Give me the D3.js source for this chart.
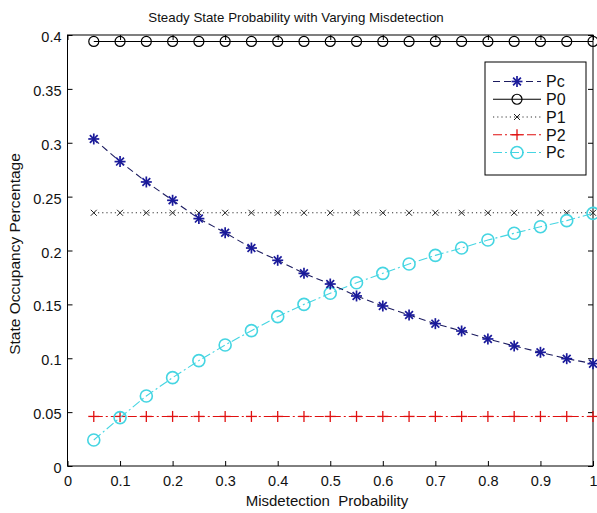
<!DOCTYPE html>
<html><head><meta charset="utf-8">
<script src="https://cdn.jsdelivr.net/npm/d3@7"></script>
<style>body{margin:0;background:#fff;} text{font-family:"Liberation Sans",Arial,sans-serif;}</style>
</head><body>
<svg id="c" width="597" height="513"></svg>
<script>
const xValues = [0.05,0.1,0.15,0.2,0.25,0.3,0.35,0.4,0.45,0.5,0.55,0.6,0.65,0.7,0.75,0.8,0.85,0.9,0.95,1.0];
const pcDecreasing = [0.3035,0.2825,0.2636,0.2466,0.2296,0.2165,0.2023,0.1909,0.1788,0.1689,0.1578,0.1485,0.1401,0.1321,0.1253,0.1179,0.1114,0.1055,0.0996,0.0950];
const p0 = [0.394,0.394,0.394,0.394,0.394,0.394,0.394,0.394,0.394,0.394,0.394,0.394,0.394,0.394,0.394,0.394,0.394,0.394,0.394,0.394];
const p1 = [0.235,0.235,0.235,0.235,0.235,0.235,0.235,0.235,0.235,0.235,0.235,0.235,0.235,0.235,0.235,0.235,0.235,0.235,0.235,0.235];
const p2 = [0.046,0.046,0.046,0.046,0.046,0.046,0.046,0.046,0.046,0.046,0.046,0.046,0.046,0.046,0.046,0.046,0.046,0.046,0.046,0.046];
const pcIncreasing = [0.0241,0.0449,0.065,0.082,0.0978,0.1123,0.1256,0.1386,0.150,0.1603,0.1701,0.1788,0.1875,0.1955,0.2023,0.2097,0.216,0.2221,0.2277,0.2345];
const xTicks = [0,0.1,0.2,0.3,0.4,0.5,0.6,0.7,0.8,0.9,1];
const yTicks = [0,0.05,0.1,0.15,0.2,0.25,0.3,0.35,0.4];
const seriesNames = ["Pc","P0","P1","P2","Pc"];

const L=67.5, R=593, T=35, B=466;
const svg = d3.select("#c");
const x = d3.scaleLinear().domain([0,1]).range([L,R]);
const y = d3.scaleLinear().domain([0,0.4]).range([B,T]);

const series = [
  {name:seriesNames[0], vals:pcDecreasing, color:"#1a1a9a", dash:"7,4", marker:"star", lineColor:"#1c1c60"},
  {name:seriesNames[1], vals:p0, color:"#000", dash:null, marker:"circle", lineColor:"#000"},
  {name:seriesNames[2], vals:p1, color:"#222", dash:"1.2,3", marker:"x", lineColor:"#333"},
  {name:seriesNames[3], vals:p2, color:"#e01010", dash:"9,3,2,3", marker:"plus", lineColor:"#e01010"},
  {name:seriesNames[4], vals:pcIncreasing, color:"#45d5e2", dash:"9,3,2,3", marker:"circleC", lineColor:"#45d5e2"}
];

const g = svg.append("g");
g.append("rect").attr("x",L).attr("y",T).attr("width",R-L).attr("height",B-T).attr("fill","none").attr("stroke","#000").attr("stroke-width",1);

const xAxis = d3.axisBottom(x).tickValues(xTicks).tickSize(-5).tickPadding(10).tickFormat(d3.format("~g"));
const yAxis = d3.axisLeft(y).tickValues(yTicks).tickSize(-5).tickPadding(6).tickFormat(d3.format("~g"));
const xa = g.append("g").attr("transform",`translate(0,${B})`).call(xAxis);
const ya = g.append("g").attr("transform",`translate(${L},0)`).call(yAxis);
g.append("g").attr("transform",`translate(0,${T})`).call(d3.axisTop(x).tickValues(xTicks).tickSize(-5).tickFormat(""));
g.append("g").attr("transform",`translate(${R},0)`).call(d3.axisRight(y).tickValues(yTicks).tickSize(-5).tickFormat(""));
svg.selectAll(".domain").remove();
svg.selectAll(".tick line").attr("stroke","#000");
[xa,ya].forEach(a=>a.selectAll("text").attr("font-size",14.5).attr("fill","#111").attr("font-family","Liberation Sans, Arial, sans-serif"));
ya.selectAll("text").attr("dy","0.45em");

function drawMarker(sel, type, cx, cy, color){
  const m = sel.append("g").attr("transform",`translate(${cx},${cy})`);
  if(type==="star"){
    const r=5.5, q=3.9;
    [[0,-r,0,r],[-r,0,r,0],[-q,-q,q,q],[-q,q,q,-q]].forEach(p=>m.append("line").attr("x1",p[0]).attr("y1",p[1]).attr("x2",p[2]).attr("y2",p[3]).attr("stroke",color).attr("stroke-width",1.7));
  } else if(type==="circle"){
    m.append("circle").attr("r",5).attr("fill","none").attr("stroke",color).attr("stroke-width",1.2);
  } else if(type==="circleC"){
    m.append("circle").attr("r",6).attr("fill","none").attr("stroke",color).attr("stroke-width",1.6);
  } else if(type==="x"){
    const r=3;
    [[-r,-r,r,r],[-r,r,r,-r]].forEach(p=>m.append("line").attr("x1",p[0]).attr("y1",p[1]).attr("x2",p[2]).attr("y2",p[3]).attr("stroke",color).attr("stroke-width",1));
  } else if(type==="plus"){
    const r=5.5;
    [[0,-r,0,r],[-r,0,r,0]].forEach(p=>m.append("line").attr("x1",p[0]).attr("y1",p[1]).attr("x2",p[2]).attr("y2",p[3]).attr("stroke",color).attr("stroke-width",1.3));
  }
}

const line = d3.line().x(d=>x(d[0])).y(d=>y(d[1]));
const drawOrder = [1,2,3,4,0];
drawOrder.forEach(i=>{
  const s = series[i];
  const pts = xValues.map((xv,j)=>[xv,s.vals[j]]);
  const p = svg.append("path").datum(pts).attr("d",line).attr("fill","none").attr("stroke",s.lineColor).attr("stroke-width",1.1);
  if(s.dash) p.attr("stroke-dasharray",s.dash);
  const mg = svg.append("g");
  pts.forEach(d=>drawMarker(mg,s.marker,x(d[0]),y(d[1]),s.color));
});

const lx0=485, ly0=62, lw=101, lh=113;
svg.append("rect").attr("x",lx0).attr("y",ly0).attr("width",lw).attr("height",lh).attr("fill","#fff").attr("stroke","#000").attr("stroke-width",1);
const legendY = d3.scalePoint().domain(d3.range(series.length)).range([81.5,152.5]);
series.forEach((s,i)=>{
  const yy = legendY(i);
  const p = svg.append("line").attr("x1",493).attr("x2",541).attr("y1",yy).attr("y2",yy).attr("stroke",s.lineColor).attr("stroke-width",1.1);
  if(s.dash) p.attr("stroke-dasharray",s.dash);
  drawMarker(svg,s.marker,517,yy,s.color);
  svg.append("text").attr("x",546).attr("y",yy).attr("dy","0.36em").attr("font-size",16).attr("fill","#111").text(s.name);
});

svg.append("text").attr("x",296).attr("y",22).attr("text-anchor","middle").attr("font-size",13.3).attr("fill","#111").text("Steady State Probability with Varying Misdetection");
svg.append("text").attr("x",327).attr("y",506).attr("text-anchor","middle").attr("font-size",15).attr("fill","#111").style("white-space","pre").text("Misdetection  Probability");
svg.append("text").attr("transform","translate(20,254) rotate(-90)").attr("text-anchor","middle").attr("font-size",15.5).attr("fill","#111").text("State Occupancy Percentage");
</script>
</body></html>
